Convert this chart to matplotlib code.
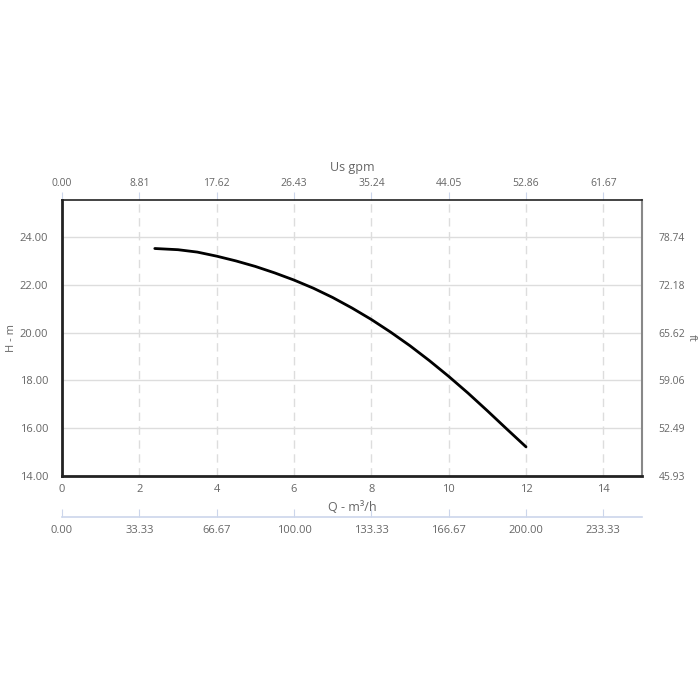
import matplotlib.pyplot as plt

plt.rcParams['font.family'] = ['Open Sans', 'DejaVu Sans']

# pump curve (Q in m3/h, H in m)
q = [2.4, 3.0, 3.5, 4.0, 4.5, 5.0, 5.5, 6.0, 6.5, 7.0, 7.5, 8.0, 8.5, 9.0,
     9.5, 10.0, 10.5, 11.0, 11.5, 12.0]
h = [23.52, 23.47, 23.37, 23.2, 23.0, 22.77, 22.5, 22.2, 21.86, 21.47, 21.03,
     20.55, 20.02, 19.45, 18.83, 18.17, 17.47, 16.73, 15.97, 15.22]

x_ticks = [0, 2, 4, 6, 8, 10, 12, 14]
y_ticks = [14, 16, 18, 20, 22, 24]
gpm_labels = ['0.00', '8.81', '17.62', '26.43', '35.24', '44.05', '52.86', '61.67']
lmin_labels = ['0.00', '33.33', '66.67', '100.00', '133.33', '166.67', '200.00', '233.33']
ft_labels = ['45.93', '52.49', '59.06', '65.62', '72.18', '78.74']

lab = '#666666'
tickc = '#ccd6eb'

fig = plt.figure(figsize=(7, 7), dpi=100)
ax = fig.add_axes([62/700, 224/700, 580/700, 276/700])

ax.plot(q, h, color='black', lw=2, solid_joinstyle='round', solid_capstyle='round')
ax.set_xlim(0, 15)
ax.set_ylim(14, 25.55)

ax.set_xticks(x_ticks)
ax.set_yticks(y_ticks)
ax.set_yticklabels(['%.2f' % v for v in y_ticks])
ax.grid(axis='x', color='#dddddd', ls=(0, (6, 4)), lw=1)
ax.grid(axis='y', color='#dddddd', ls='-', lw=1)
ax.tick_params(axis='x', length=0, colors=lab, labelsize=8, pad=6)
ax.tick_params(axis='y', length=0, colors=lab, labelsize=8, pad=10)
for s in ['left', 'bottom']:
    ax.spines[s].set_linewidth(2)
    ax.spines[s].set_color('#222222')
ax.spines['top'].set_linewidth(1.2)
ax.spines['top'].set_color('#222222')
ax.spines['right'].set_linewidth(1.5)
ax.spines['right'].set_color('#888888')
ax.set_xlabel('Q - m³/h', color=lab, fontsize=9, labelpad=4)

fig.text(12/700, 1 - 338/700, 'H - m', color=lab, fontsize=8, rotation=90,
         ha='center', va='center')
fig.text(691/700, 1 - 338/700, 'ft', color=lab, fontsize=8, rotation=270,
         ha='center', va='center')

# right axis ft
ax2 = ax.twinx()
ax2.set_ylim(14 * 3.28084, 25.55 * 3.28084)
ax2.set_yticks([v * 3.28084 for v in y_ticks])
ax2.set_yticklabels(ft_labels)
ax2.tick_params(axis='y', length=0, colors=lab, labelsize=7.5, pad=12)
for s in ax2.spines.values():
    s.set_visible(False)

# top axis US gpm
top = ax.secondary_xaxis('top')
top.set_xticks(x_ticks)
top.set_xticklabels(gpm_labels)
top.tick_params(axis='x', length=6, color=tickc, colors=lab, labelsize=7.5, pad=2)
top.tick_params(axis='x', color=tickc)
top.spines['top'].set_visible(False)
top.set_xlabel('Us gpm', color=lab, fontsize=9, labelpad=5)

# bottom secondary axis l/min
bot = ax.secondary_xaxis(-0.149)
bot.set_xticks(x_ticks)
bot.set_xticklabels(lmin_labels)
bot.tick_params(axis='x', direction='in', length=6, color=tickc, colors=lab, labelsize=8, pad=6)
bot.tick_params(axis='x', color=tickc)
bot.spines['bottom'].set_color(tickc)
bot.spines['bottom'].set_linewidth(1.2)

fig.savefig('out.png', dpi=100)
